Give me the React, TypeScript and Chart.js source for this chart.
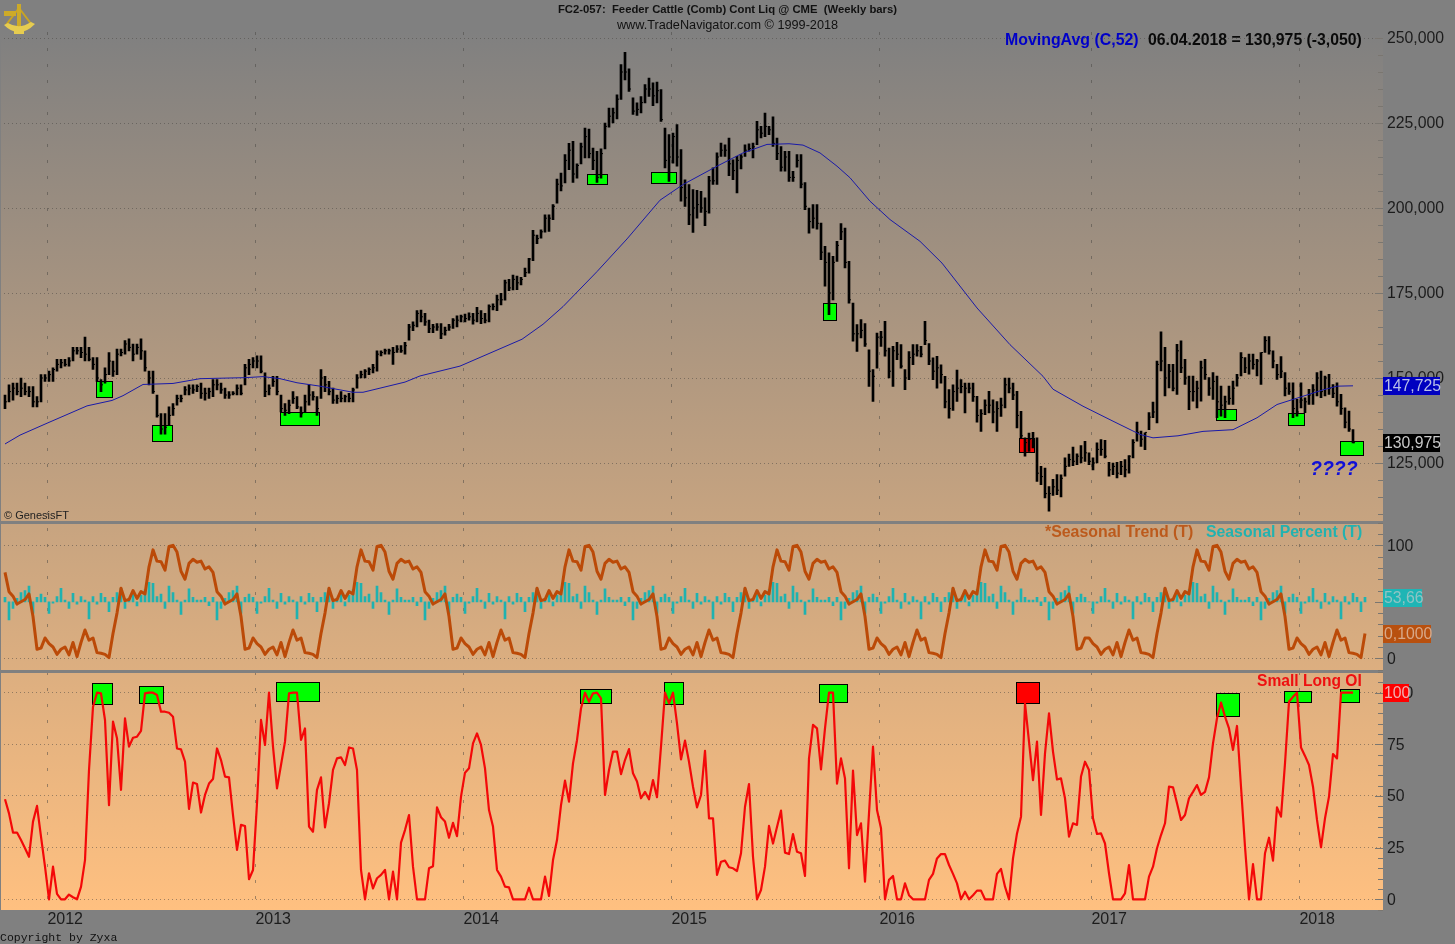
import { useEffect, useRef } from 'react';
import { Chart, registerables } from 'chart.js';

Chart.register(...registerables);

const highs = [
  145,148,148.5,148.5,150,148.5,147.5,147.5,144.5,151,
  151,152,153,155.5,155.5,155.5,156,159,159,159,
  162,159,156,156,149.5,153,157.5,155,158.5,158.5,
  161,161.5,160,160,161.5,158,152,152,145,139.5,
  139.5,141.5,142.5,145,145,147.5,148,148,148,148.5,
  147,147,149.5,149.5,148.5,147,146,146,148,148,
  154,155.5,156,156.5,156.5,151.5,148,150.5,150.5,145,
  142.5,143.5,146,144.5,141.5,145,148,146,144.5,152.5,
  150.5,149,147,145,146,145,145.5,147,151,152,
  152.5,153,154,158,158,158.5,158.5,159,159.5,159.5,
  160.5,165.8,166.5,169.8,170,169,167,165.8,166,166,
  165,165.8,167.5,168.3,168.5,168.8,169.2,169,170.8,169.8,
  169,171.5,171.8,174.4,174.9,178.8,179,180.3,180,179.6,
  182.3,185.2,193.4,192,193.6,198,198,201,208.5,210.3,
  215.7,219,219.6,213,219.1,223.5,223.2,217.6,216.7,217.4,
  225,229.4,229.4,233.3,242.2,245.8,240.9,232.4,230.9,232.8,
  236.3,238.2,236.8,237,234.8,223.5,221.6,222,224.5,217.2,
  208.3,206.9,205.4,205.2,204.9,203,209.3,211.8,216.2,219.1,
  218.6,220.6,214.2,215.2,215.7,218.6,218.9,219.1,225.5,224,
  227.9,224,226.8,220.6,218.1,216.7,216.7,210.8,215.7,215.7,
  207.5,200,201,201,195.6,188.7,186.8,185.8,190.2,195.4,
  194.1,184.3,172,165.7,167.2,166,158.3,152.5,163.2,163.7,
  166.7,158.8,159.3,160.5,159.8,152.5,157.8,159.8,159.8,159.3,
  166.7,160.1,155.9,156.4,153.9,150.5,146.6,148,152.3,149.5,
  148.5,148.5,148.5,144.6,140.7,143.6,146.1,143.6,143.1,144.1,
  150,150,148.5,146.1,140.2,132.4,133.8,134,132.4,124,
  123.5,118.1,120.2,121.6,121.5,126.5,127.6,129.7,127.7,130.1,
  131.4,128,126.5,130.9,131.9,131.7,125.2,125,125.2,125.5,
  126,127.2,131.9,137,134.4,133.9,139.8,142.9,155,163.6,
  159,154,154,159.9,160.9,155.5,150.6,150.6,149.1,155,
  155.5,150.1,151.6,150.6,147.6,144.7,147.6,149.1,151.1,157.5,
  156,157,157,155.5,157.5,162.2,162.2,158,154,156.3,
  151.6,148.6,148.6,143.7,148.6,144.2,146.7,148.1,151.6,152,
  150.6,151.1,148.1,148.6,145.2,141.2,140.3,134.8,
];

const lows = [
  141,143,143.5,145,144.5,145,144.5,141.5,141.5,143,
  149,149,149,152,153,153.5,153.5,155,157,156,
  155,155,152.5,149,146,148.5,151,150.5,151,156.5,
  157,158,155,157,155.5,152,148,145.5,138.5,133.5,
  133.5,136,139,142,143,145,145,145.5,146,144,
  143.5,144,144.5,146.5,145.5,144,144,145,145,145,
  148,151,153,153,151.5,144.5,145,147.5,145,140,
  139,139.5,142.5,141,138.5,140,142,143.5,139,144,
  146,145,142.5,142.5,143,143,143,143,147,150,
  150,151,151.5,152,156.5,157,157,154,157.5,157.5,
  157,161.1,163.9,165,166.5,165.5,163.3,163.3,164,161.6,
  162.6,164,164.6,165,166.5,166.5,167,165.8,166.5,166,
  166.2,166.5,170,169.8,171.5,172.9,175.7,175.9,176,177.4,
  179.8,180.8,184.5,189.5,191.1,192.9,193.1,196.6,201.4,205,
  207.4,211.3,207.5,208.8,213,214.7,214.7,211.3,207.5,208.8,
  217.4,223.8,225,226.2,231.9,237.7,234.3,227.5,227.2,228,
  230.9,232.8,230.1,230.9,225.5,211.8,207.8,213.2,212.3,202,
  200.5,195.1,192.8,197,198.7,194.8,198.5,206.9,206.9,215.2,
  215.2,209.5,208.3,204.4,211.5,215.2,216.7,214.7,218.6,220.6,
  221,221.6,218.1,214.2,210.8,210.8,207.8,207.8,212,205.9,
  199.5,192.6,194.1,193.8,184.8,177,168.6,173,184.3,190.7,
  182.4,172,160.8,157.8,161.8,159.3,147.5,143.1,152.9,159.3,
  156.4,150,147.5,155.4,152.9,146.6,149.5,153.9,156.4,156.2,
  159.8,153.9,149.5,147,148.5,141.2,138.2,140.5,143.1,145.6,
  139.7,145.6,143.1,137,134.3,139.2,139.7,136.8,134.3,138.7,
  141.2,145.6,143.6,135.3,132.4,127,128.4,129.4,119.6,118.6,
  114.7,110.8,115.5,115.7,115,121.1,124,124.2,124.5,125,
  125.5,124.5,123,125,127.2,126.5,121.1,121.6,120.6,121.6,
  120.9,122,126.5,131.4,129.9,128.9,134.8,138.3,136.8,152.1,
  144.7,147.1,146.2,145.2,151.6,148.1,140.7,143.2,141.2,143.2,
  149.6,144.9,143.7,138.3,138.8,138.3,142.2,142.2,147.6,150.6,
  151.6,151.1,152.6,150.6,148.1,157.5,157,153,149.6,150.1,
  144.7,145.2,138.3,138.8,141.2,139.8,142.2,142.2,144.7,144.2,
  144.7,145.2,144.2,141.7,139.3,135.3,134.3,130.9,
];

const closes = [
  143,146,147,146,147,146,146,143,143,150,
  150,151,152.5,154,154.5,154,155,158,158,157.5,
  157,155.5,154,150,148,151,155,152,157,157.5,
  160,159,157,159,158,153,150,146,139,135,
  135.5,139,141,144,144,146.5,147,146.5,147.5,145.5,
  145.5,146,148,148,146.5,145,145,145.5,147,145.5,
  153,154,155,155,152,146,147,149,146,141,
  140.5,142,144,141.5,139.5,143,145,144.5,141,150,
  148,146,143.5,144,144,144.5,144,146.5,150,151,
  152,152.5,153,157,157.5,158,158,157.5,158.5,158,
  159.5,165,165.5,169,168,166.5,164.5,165,165,163,
  164,165,167,167,168,167.5,168,167,169,167.5,
  167,171,171,173,173,178,176.5,179,178,179,
  181,185,192,191,193,197,197,200.5,207,206.5,
  214,217,210,212.5,218,221,216,214,209,216,
  224,227,228,232,240,240,235,228.5,229,231,
  235,235,233,234.5,226,214,215,221,215,206,
  203,198,200,201,200,199,208,208,215,217,
  217,213,211,214,215,217,217.5,218,223,222,
  224,223,219,216,212,215,209,209,214,207,
  200.5,196,197,195.5,187,184,175,184,189,193,
  184,173,163,163,164,160,152,150.5,162,162,
  158,152,158,157,153.5,150,156,157,158,157,
  161,155,152,153,151,143,141,146,147,147.5,
  147,147,144.5,139,139.5,142,142,140,141,142,
  148,147,145,139,133,131,132,131,122,121,
  116,116,118,117,120.5,124,126,125.5,127,126.5,
  128,125.5,125,129,129,127,123,124,122,124,
  123,127,131,134,132,134,138.5,140,154,155,
  150,152,147,158,153,150,146,146,147,153,
  151,147,149,143,142,143,144,147,150,156,
  153,155,154,155,157.5,161,158,155,151,152,
  147,146,141,140,143.5,143,145,146.5,150,146,
  150,147,145.5,143,141,137,135,130.975,
];

const movingAvgWeeks = [
  0,3.75,10.5,20.5,26.75,29.5,34.5,42,48.75,60,64.5,68.75,73,78.75,87,89.5,100,103.75,113.75,
  129.25,134.5,139.5,148,155.5,163.75,169.5,178,184.5,190.5,196,199.5,203.75,208,211.25,216.25,
  221.25,228.75,234.25,243,251.25,259.5,262,269.5,277,283.75,287,293.25,299.5,307,313,318,322,329.5,333,337,
];
const movingAvgValues = [
  130.6,133.2,136.7,141.8,143.4,144.8,148.1,148.4,149.8,150.1,150.4,149.8,148.6,147.6,145.8,145.8,148.8,150.6,153.5,
  161.4,165.8,171,181.3,190.9,202.3,206.9,212.3,216.2,218.7,218.9,218.5,216.2,212.3,208.9,202,
  196.6,190.2,183.8,170.6,159.8,150.5,146.7,141.7,137.3,133.4,132.4,133,134.3,134.8,138.3,142.2,143.7,146.5,147.6,147.7,
];

const seasonalTrend = [
  76,59,55,48,50,52,57,37,8,9,18,13,10,3.5,8,10,3,14,1.5,14,25,16,18,5,4.4,3.5,0.6,22,40,62,51,52,60,53,59,57,81,96,86,85.5,78,99,100,94,77,70,84,87.6,85,86,79,81,
  76,59,55,48,50,52,57,37,8,9,18,13,10,3.5,8,10,3,14,1.5,14,25,16,18,5,4.4,3.5,0.6,22,40,62,51,52,60,53,59,57,81,96,86,85.5,78,99,100,94,77,70,84,87.6,85,86,79,81,
  76,59,55,48,50,52,57,37,8,9,18,13,10,3.5,8,10,3,14,1.5,14,25,16,18,5,4.4,3.5,0.6,22,40,62,51,52,60,53,59,57,81,96,86,85.5,78,99,100,94,77,70,84,87.6,85,86,79,81,
  76,59,55,48,50,52,57,37,8,9,18,13,10,3.5,8,10,3,14,1.5,14,25,16,18,5,4.4,3.5,0.6,22,40,62,51,52,60,53,59,57,81,96,86,85.5,78,99,100,94,77,70,84,87.6,85,86,79,81,
  76,59,55,48,50,52,57,37,8,9,18,13,10,3.5,8,10,3,14,1.5,14,25,16,18,5,4.4,3.5,0.6,22,40,62,51,52,60,53,59,57,81,96,86,85.5,78,99,100,94,77,70,84,87.6,85,86,79,81,
  76,59,55,48,50,52,57,37,8,9,18,18,13,10,3.5,8,10,3,14,1.5,14,25,16,18,5,4.4,3.5,0.6,22,40,62,51,52,60,53,59,57,81,96,86,85.5,78,99,100,94,77,70,84,87.6,85,86,79,81,
  76,59,55,48,50,52,57,37,8,9,18,13,10,3.5,8,10,3,14,1.5,14,25,16,18,5,4.4,3.5,0.6,22,
];

const seasonalPercent = [
  54,33.9,44.2,53.1,58.1,59.9,64,39.8,54,56.9,54,39.8,48.7,54.6,61.9,51.6,44.2,57.5,48,54.6,51.6,34.8,54.6,47.8,57.5,54,41.3,54,58.1,61.9,44.2,53.1,56.9,46.3,56,60.5,67.3,66.4,54.6,56.9,44.2,64,58.1,51.6,38.9,51.6,61.4,54,51.6,51.6,54,46.6,
  54,33.9,44.2,53.1,58.1,59.9,64,39.8,54,56.9,54,39.8,48.7,54.6,61.9,51.6,44.2,57.5,48,54.6,51.6,34.8,54.6,47.8,57.5,54,41.3,54,58.1,61.9,44.2,53.1,56.9,46.3,56,60.5,67.3,66.4,54.6,56.9,44.2,64,58.1,51.6,38.9,51.6,61.4,54,51.6,51.6,54,46.6,
  54,33.9,44.2,53.1,58.1,59.9,64,39.8,54,56.9,54,39.8,48.7,54.6,61.9,51.6,44.2,57.5,48,54.6,51.6,34.8,54.6,47.8,57.5,54,41.3,54,58.1,61.9,44.2,53.1,56.9,46.3,56,60.5,67.3,66.4,54.6,56.9,44.2,64,58.1,51.6,38.9,51.6,61.4,54,51.6,51.6,54,46.6,
  54,33.9,44.2,53.1,58.1,59.9,64,39.8,54,56.9,54,39.8,48.7,54.6,61.9,51.6,44.2,57.5,48,54.6,51.6,34.8,54.6,47.8,57.5,54,41.3,54,58.1,61.9,44.2,53.1,56.9,46.3,56,60.5,67.3,66.4,54.6,56.9,44.2,64,58.1,51.6,38.9,51.6,61.4,54,51.6,51.6,54,46.6,
  54,33.9,44.2,53.1,58.1,59.9,64,39.8,54,56.9,54,39.8,48.7,54.6,61.9,51.6,44.2,57.5,48,54.6,51.6,34.8,54.6,47.8,57.5,54,41.3,54,58.1,61.9,44.2,53.1,56.9,46.3,56,60.5,67.3,66.4,54.6,56.9,44.2,64,58.1,51.6,38.9,51.6,61.4,54,51.6,51.6,54,46.6,
  54,33.9,44.2,53.1,58.1,59.9,64,39.8,54,56.9,54,50,39.8,48.7,54.6,61.9,51.6,44.2,57.5,48,54.6,51.6,34.8,54.6,47.8,57.5,54,41.3,54,58.1,61.9,44.2,53.1,56.9,46.3,56,60.5,67.3,66.4,54.6,56.9,44.2,64,58.1,51.6,38.9,51.6,61.4,54,51.6,51.6,54,46.6,
  54,33.9,44.2,53.1,58.1,59.9,64,39.8,54,56.9,54,39.8,48.7,54.6,61.9,51.6,44.2,57.5,48,54.6,51.6,34.8,54.6,47.8,57.5,54,41.3,54,
];

const smallLongOI = [
  48.4,41.6,32.3,32.3,28.7,24.7,20.6,37.6,45.2,30.3,15.8,0,15.8,2.6,0,0,2.3,1,0,6,
  19,62.6,93.2,100,99.7,86.8,45.6,86,78,53,87.6,73.9,78.2,78.7,81.5,99.7,100,100,98.9,90.8,
  90.8,90.3,88.4,73,72.6,66.6,43.7,56.5,55.8,42,50.5,56,58.2,73,67.4,59.4,59,40.8,23.9,36,
  35.5,9.7,14.2,46.5,86.8,74.7,100,73.9,53.7,65,76.3,99.7,100,100,77.1,82.7,35.2,32.7,53,59,
  34.8,46.5,62.6,68.2,68.7,65,73.5,73,62.6,14.2,0,12.6,5.3,10.2,11.8,14.2,0,13.4,0,27.4,
  33.5,40.8,15.8,0,0,0,15,16,44.5,39.7,37.6,29.8,37,30.6,49.7,61.3,63.4,75.5,80.3,74.7,
  63.4,43.2,35.2,14.2,11,6.1,5.8,0,0,0,0,5.6,0,0,0,11,1.6,19,28.7,45.6,
  57.4,47.3,65.8,77,92.4,100,95.6,99.7,100,97.3,50.5,62.6,71.5,71.5,60.6,67.4,72.7,61,57,48.9,
  52,48.4,57.7,49.4,73.9,100,94.8,100,85.2,67.7,76.8,66.6,54.5,44.5,50.5,71.9,39.2,39.2,11.8,18.2,
  18.7,15.5,15,13.7,22.3,44.8,55.8,20.6,0,4.5,15.8,35.5,27,35,42.9,22.6,21.9,31.6,23,22.3,
  11.3,68.2,84.4,82.7,62.9,82.7,100,100,56,68.2,58.5,15,62.3,31.1,36.8,8.5,41.6,73.9,43.2,34.4,
  0,9.4,11.3,0,0,7.7,2,0,0,0,0,9.4,12.3,19.8,21.9,21.9,16.6,12.3,7.7,0,
  3.7,0,2,4.2,4.2,0,0,0,12.3,14.7,6.1,0,19.8,31.9,40,94.8,76.3,57.7,76.3,40.8,
  70.6,90,71.5,58,58.5,48.9,30.3,36.8,36,59.4,66.6,62.6,39.2,31.6,31.9,27,12.6,0,0,0,
  2.9,16.6,0,0,0,0,11,15.8,24.7,31.1,36.8,54.5,54.2,46.5,38.4,40.8,48.9,52,55.3,50.5,
  52,59,75.5,87.6,95.2,88.4,82.7,72.3,83.9,54.5,25.5,0,17,0,0,22.3,29.8,18.7,44.5,40,
  65.8,95.6,98,100,73.5,69.4,65,54.5,38.4,25.2,39.2,49.7,70.3,68.2,100,100,100,100,
];

const yearWeeks = [10.6, 62.6, 114.6, 166.6, 218.6, 271.6, 323.6];
const yearLabels = ['2012', '2013', '2014', '2015', '2016', '2017', '2018'];

const priceMarkFrom = [22.7, 36.7, 68.7, 145.6, 161.6, 204.6, 253.6, 302.7, 320.7, 333.7];
const priceMarkTo = [26.7, 41.7, 78.6, 150.6, 167.7, 207.7, 257.3, 307.7, 324.7, 339.6];
const priceMarkHigh = [149.2, 136.2, 140, 209.9, 210.6, 172, 132.3, 141, 139.8, 131.4];
const priceMarkLow = [144.4, 131.6, 136.3, 207.1, 207.3, 167, 128.2, 137.7, 136.1, 127.4];
const priceMarkColor = ['#00ff00','#00ff00','#00ff00','#00ff00','#00ff00','#00ff00','#ff0000','#00ff00','#00ff00','#00ff00'];

const oiMarkFrom = [21.7, 33.6, 67.7, 143.7, 164.7, 203.6, 252.7, 302.7, 319.7, 333.7];
const oiMarkTo = [26.7, 39.6, 78.6, 151.6, 169.6, 210.6, 258.6, 308.6, 326.6, 338.6];
const oiMarkHigh = [104.5, 103, 105, 102, 105, 104, 105, 99.7, 100.6, 101.6];
const oiMarkLow = [94.4, 94.8, 95.8, 94.8, 94.4, 95.3, 94.8, 88.5, 95.3, 95.3];
const oiMarkColor = ['#00ff00','#00ff00','#00ff00','#00ff00','#00ff00','#00ff00','#ff0000','#00ff00','#00ff00','#00ff00'];

const SANS = '"Liberation Sans", Arial, sans-serif';

const paintPlugin = {
  id: 'paint',
  beforeDraw(chart: any) {
    const { ctx, chartArea: a, width, height } = chart;
    ctx.save();
    ctx.fillStyle = '#808080';
    ctx.fillRect(0, 0, width, height);
    const g = ctx.createLinearGradient(0, a.top, 0, a.bottom);
    g.addColorStop(0, '#808080');
    g.addColorStop(1, '#ffc080');
    ctx.fillStyle = g;
    ctx.fillRect(a.left, a.top, a.right - a.left, a.bottom - a.top);
    ctx.restore();
  },
  beforeDatasetsDraw(chart: any) {
    const { ctx, scales } = chart;
    const box = (sc: any, from: number[], to: number[], hi: number[], lo: number[], col: string[]) => {
      from.forEach((f, i) => {
        const x0 = Math.round(scales.x.getPixelForValue(f)) + 0.5;
        const x1 = Math.round(scales.x.getPixelForValue(to[i])) + 0.5;
        const y0 = Math.round(sc.getPixelForValue(hi[i])) + 0.5;
        const y1 = Math.round(sc.getPixelForValue(lo[i])) + 0.5;
        ctx.fillStyle = col[i];
        ctx.fillRect(x0, y0, x1 - x0, y1 - y0);
        ctx.strokeStyle = '#000';
        ctx.lineWidth = 1;
        ctx.strokeRect(x0, y0, x1 - x0, y1 - y0);
      });
    };
    ctx.save();
    box(scales.yPrice, priceMarkFrom, priceMarkTo, priceMarkHigh, priceMarkLow, priceMarkColor);
    box(scales.yOI, oiMarkFrom, oiMarkTo, oiMarkHigh, oiMarkLow, oiMarkColor);
    ctx.restore();
  },
  afterDraw(chart: any) {
    const { ctx, scales, chartArea: a } = chart;
    const { yPrice, ySeason, yOI } = scales;
    ctx.save();
    // panel separators
    ctx.fillStyle = '#808080';
    ctx.fillRect(0, yPrice.bottom - 1.5, a.right, 3);
    ctx.fillRect(0, ySeason.bottom - 1.5, a.right, 3);
    ctx.fillRect(0, a.top, 1, a.bottom - a.top);
    // inward ticks
    ctx.strokeStyle = '#7a7670';
    ctx.lineWidth = 1;
    const inward = (sc: any, major: (v: number) => boolean) => {
      sc.ticks.forEach((t: any) => {
        const y = Math.round(sc.getPixelForValue(t.value)) + 0.5;
        ctx.beginPath();
        ctx.moveTo(a.right - (major(t.value) ? 8 : 5), y);
        ctx.lineTo(a.right, y);
        ctx.stroke();
      });
    };
    inward(yPrice, (v) => v % 25 === 0);
    inward(ySeason, (v) => v % 50 === 0);
    inward(yOI, (v) => v % 25 === 0);

    const label = (sc: any, value: number, text: string, w: number, bg: string, fg: string) => {
      const y = sc.getPixelForValue(value);
      ctx.fillStyle = bg;
      ctx.fillRect(a.right, Math.round(y) - 9, w, 18);
      ctx.fillStyle = fg;
      ctx.font = `15.8px ${SANS}`;
      ctx.textAlign = 'left';
      ctx.textBaseline = 'middle';
      ctx.fillText(text, a.right + 1, y + 1);
    };
    label(yPrice, 147.725, '147,725', 57, '#0000c0', '#b9bfe8');
    label(yPrice, 130.975, '130,975', 57, '#000000', '#c8c8c8');
    label(ySeason, 53.66, '53,66', 39, '#1fb5b5', '#8fc4c4');
    label(ySeason, 21.5, '0,1000', 48, '#b8500f', '#d8a888');
    label(yOI, 100, '100', 26, '#ff0000', '#f0b0b0');

    const text = (s: string, x: number, y: number, font: string, color: string, align = 'left') => {
      ctx.font = font;
      ctx.fillStyle = color;
      ctx.textAlign = align;
      ctx.textBaseline = 'alphabetic';
      ctx.fillText(s, x, y);
    };
    text('FC2-057:  Feeder Cattle (Comb) Cont Liq @ CME  (Weekly bars)', 727.5, 13, `bold 11.3px ${SANS}`, '#111', 'center');
    text('www.TradeNavigator.com © 1999-2018', 727.5, 29, `12.7px ${SANS}`, '#111', 'center');
    text('MovingAvg (C,52)', 1005, 45, `bold 15.9px ${SANS}`, '#0000c8');
    text('06.04.2018 = 130,975 (-3,050)', 1148, 45, `bold 15.8px ${SANS}`, '#0a0a0a');
    text('*Seasonal Trend (T)', 1045, 537, `bold 15.9px ${SANS}`, '#bc5a1c');
    text('Seasonal Percent (T)', 1206, 537, `bold 15.8px ${SANS}`, '#22b2b0');
    text('Small Long OI', 1257, 686, `bold 15.6px ${SANS}`, '#ee1010');
    text('© GenesisFT', 4, 519, `11px ${SANS}`, '#222');
    text('Copyright by Zyxa', 0, 941, `11.5px "Liberation Mono", monospace`, '#111');
    text('????', 1310, 475, `italic bold 19.5px ${SANS}`, '#1010d8');

    // sextant emblem
    ctx.strokeStyle = '#c9a422';
    ctx.lineWidth = 2;
    ctx.beginPath();
    ctx.moveTo(19, 8);
    ctx.lineTo(6, 25);
    ctx.moveTo(19, 8);
    ctx.lineTo(32, 25);
    ctx.stroke();
    ctx.fillStyle = '#cdaa28';
    ctx.fillRect(4, 11, 12, 5);
    ctx.fillRect(17, 4, 4, 26);
    ctx.fillStyle = '#e6cc50';
    ctx.beginPath();
    ctx.moveTo(4, 25);
    ctx.quadraticCurveTo(19, 40, 35, 24);
    ctx.lineTo(31, 22);
    ctx.quadraticCurveTo(19, 30, 8, 23);
    ctx.closePath();
    ctx.fill();
    ctx.fillRect(14, 27, 10, 7);
    ctx.restore();
  },
};

const gridLine = 'rgba(70,68,64,0.5)';

export default function App() {
  const ref = useRef<HTMLCanvasElement>(null);
  useEffect(() => {
    const fixWidth = (axis: any) => { axis.width = 72; };
    const tickFont = { family: SANS, size: 15.8 };
    const chart = new Chart(ref.current as HTMLCanvasElement, {
      type: 'bar',
      plugins: [paintPlugin],
      data: {
        datasets: [
          {
            type: 'line', label: 'MovingAvg (C,52)', xAxisID: 'x', yAxisID: 'yPrice', order: 1,
            data: movingAvgWeeks.map((w, i) => ({ x: w, y: movingAvgValues[i] })),
            borderColor: '#1a1aa8', borderWidth: 1, pointRadius: 0, tension: 0,
          },
          {
            type: 'bar', label: 'High-Low', xAxisID: 'x', yAxisID: 'yPrice', order: 4,
            data: highs.map((h, i) => ({ x: i, y: [lows[i], h] })),
            backgroundColor: '#000', barThickness: 2, grouped: false,
          },
          {
            type: 'line', label: 'Close', xAxisID: 'x', yAxisID: 'yPrice', order: 3, showLine: false,
            data: closes.map((c, i) => ({ x: i, y: c })),
            pointStyle: 'dash', pointRadius: 2, pointBorderWidth: 1, pointBorderColor: '#000',
          },
          {
            type: 'bar', label: 'Seasonal Percent (T)', xAxisID: 'x', yAxisID: 'ySeason', order: 6,
            data: seasonalPercent.map((v, i) => ({ x: i, y: [50, v] })),
            backgroundColor: '#1fb2b0', barThickness: 2, grouped: false,
          },
          {
            type: 'line', label: 'Seasonal Trend (T)', xAxisID: 'x', yAxisID: 'ySeason', order: 5,
            data: seasonalTrend.map((v, i) => ({ x: i, y: v })),
            borderColor: '#bb4a08', borderWidth: 3, borderJoinStyle: 'round', pointRadius: 0, tension: 0,
          },
          {
            type: 'line', label: 'Small Long OI', xAxisID: 'x', yAxisID: 'yOI', order: 2,
            data: smallLongOI.map((v, i) => ({ x: i, y: v })),
            borderColor: '#f40808', borderWidth: 2.2, borderJoinStyle: 'round', pointRadius: 0, tension: 0,
          },
        ],
      },
      options: {
        responsive: false,
        animation: false,
        devicePixelRatio: 1,
        events: [],
        layout: { autoPadding: false, padding: { top: 32, left: 0, right: 0, bottom: 0 } },
        plugins: { legend: { display: false }, tooltip: { enabled: false }, title: { display: false } },
        scales: {
          x: {
            type: 'linear', position: 'bottom', offset: false, min: -1.25, max: 344.5,
            afterBuildTicks: (axis: any) => { axis.ticks = yearWeeks.map((value) => ({ value })); },
            afterFit: (axis: any) => { axis.height = 34; },
            border: { display: false, dash: [3, 13] },
            grid: { offset: false, color: gridLine, lineWidth: 1, drawTicks: false },
            ticks: {
              align: 'start', maxRotation: 0, autoSkip: false, padding: 0, color: '#1c1c1c', font: { family: SANS, size: 16 },
              callback: (_v: any, i: number) => yearLabels[i],
            },
          },
          yPrice: {
            type: 'linear', position: 'right', stack: 'panels', stackWeight: 490.5,
            min: 107.5, max: 251.765, afterFit: fixWidth,
            border: { display: false, dash: [1, 3] },
            grid: {
              drawTicks: false, lineWidth: 1,
              color: (c: any) => (c.tick && c.tick.value % 25 === 0 ? gridLine : 'transparent'),
            },
            ticks: {
              stepSize: 5, includeBounds: false, autoSkip: false, padding: 4, labelOffset: 1, color: '#1c1c1c', font: tickFont,
              callback: (v: any) => (v % 25 === 0 ? `${v},000` : ''),
            },
          },
          ySeason: {
            type: 'linear', position: 'right', stack: 'panels', stackWeight: 149,
            min: -11.7, max: 120.2, afterFit: fixWidth,
            border: { display: false, dash: [1, 3] },
            grid: {
              drawTicks: false, lineWidth: 1,
              color: (c: any) => (c.tick && c.tick.value % 100 === 0 ? gridLine : 'transparent'),
            },
            ticks: {
              stepSize: 10, includeBounds: false, autoSkip: false, padding: 4, labelOffset: 1, color: '#1c1c1c', font: tickFont,
              callback: (v: any) => (v % 50 === 0 ? String(v) : ''),
            },
          },
          yOI: {
            type: 'linear', position: 'right', stack: 'panels', stackWeight: 238.5,
            min: -5.18, max: 110.26, afterFit: fixWidth,
            border: { display: false, dash: [1, 3] },
            grid: {
              drawTicks: false, lineWidth: 1,
              color: (c: any) => (c.tick && c.tick.value % 25 === 0 ? gridLine : 'transparent'),
            },
            ticks: {
              stepSize: 5, includeBounds: false, autoSkip: false, padding: 4, labelOffset: 1, color: '#1c1c1c', font: tickFont,
              callback: (v: any) => (v % 25 === 0 ? String(v) : ''),
            },
          },
        },
      },
    } as any);
    return () => chart.destroy();
  }, []);
  return (
    <div style={{ position: 'fixed', left: 0, top: 0, width: 1455, height: 944 }}>
      <canvas ref={ref} width={1455} height={944} style={{ display: 'block' }} />
    </div>
  );
}
